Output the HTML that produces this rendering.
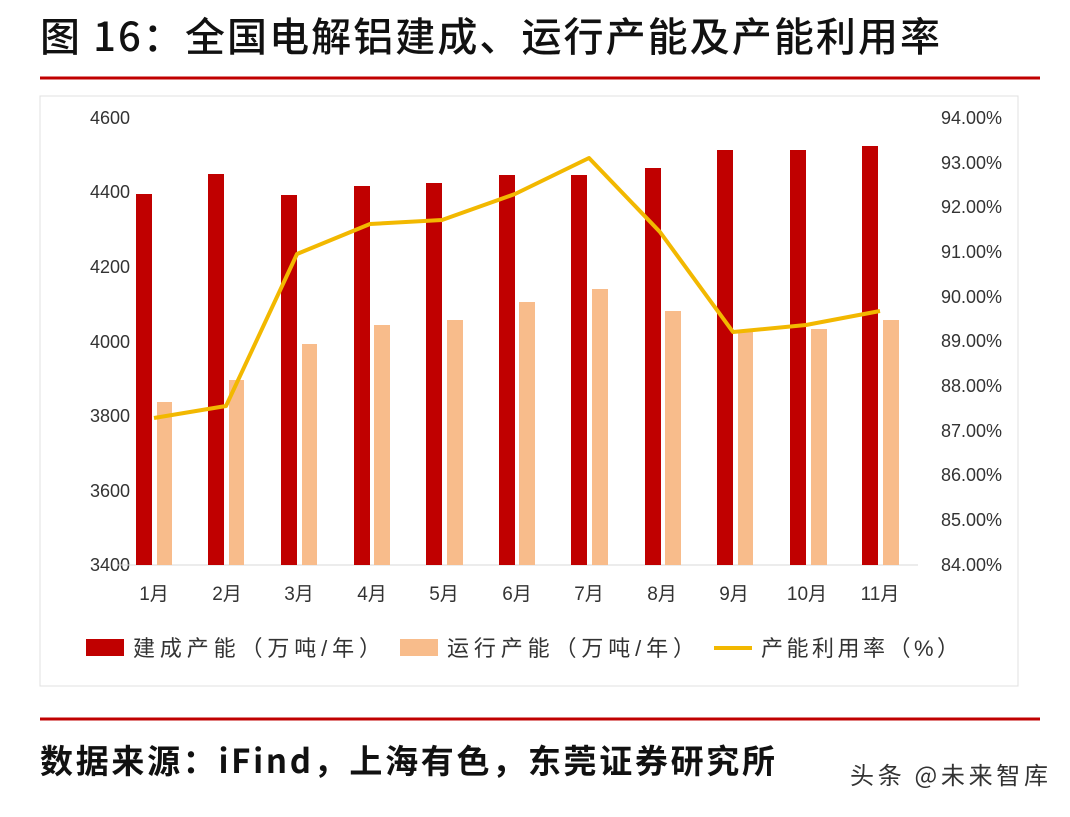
<!DOCTYPE html>
<html><head><meta charset="utf-8"><style>
body{margin:0;width:1070px;height:812px;background:#fff;overflow:hidden;font-family:"Liberation Sans","Noto Sans CJK SC",sans-serif;}
</style></head><body>
<svg width="1070" height="812" xmlns="http://www.w3.org/2000/svg" font-family="Liberation Sans, Noto Sans CJK SC, sans-serif">
<text x="40" y="51" font-size="40" font-weight="500" fill="#111" font-family="Noto Sans CJK SC, sans-serif" textLength="900" lengthAdjust="spacing">图 16：全国电解铝建成、运行产能及产能利用率</text>
<line x1="40" y1="78" x2="1040" y2="78" stroke="#c00000" stroke-width="3"/>
<rect x="40" y="96" width="978" height="590" fill="#fff" stroke="#e0e0e0"/>
<g font-size="18" fill="#333" text-anchor="end">
<text x="130" y="124">4600</text><text x="130" y="198">4400</text><text x="130" y="273">4200</text><text x="130" y="348">4000</text><text x="130" y="422">3800</text><text x="130" y="497">3600</text><text x="130" y="571">3400</text>
</g>
<g font-size="18" fill="#333" text-anchor="end">
<text x="1002" y="124">94.00%</text><text x="1002" y="169">93.00%</text><text x="1002" y="213">92.00%</text><text x="1002" y="258">91.00%</text><text x="1002" y="303">90.00%</text><text x="1002" y="347">89.00%</text><text x="1002" y="392">88.00%</text><text x="1002" y="437">87.00%</text><text x="1002" y="481">86.00%</text><text x="1002" y="526">85.00%</text><text x="1002" y="571">84.00%</text>
</g>
<line x1="117" y1="565" x2="918" y2="565" stroke="#d9d9d9"/>
<g fill="#c00000">
<rect x="136" y="194" width="16" height="371"/><rect x="208" y="174" width="16" height="391"/><rect x="281" y="195" width="16" height="370"/><rect x="354" y="186" width="16" height="379"/><rect x="426" y="183" width="16" height="382"/><rect x="499" y="175" width="16" height="390"/><rect x="571" y="175" width="16" height="390"/><rect x="645" y="168" width="16" height="397"/><rect x="717" y="150" width="16" height="415"/><rect x="790" y="150" width="16" height="415"/><rect x="862" y="146" width="16" height="419"/>
</g>
<g fill="#f8bc8b">
<rect x="157" y="402" width="15" height="163"/><rect x="229" y="380" width="15" height="185"/><rect x="302" y="344" width="15" height="221"/><rect x="374" y="325" width="16" height="240"/><rect x="447" y="320" width="16" height="245"/><rect x="519" y="302" width="16" height="263"/><rect x="592" y="289" width="16" height="276"/><rect x="665" y="311" width="16" height="254"/><rect x="738" y="330" width="15" height="235"/><rect x="811" y="329" width="16" height="236"/><rect x="883" y="320" width="16" height="245"/>
</g>
<polyline points="154,418 226,406 297,254 370,224 442,220 515,194 589,158 660,232 733,332 806,325 880,311" fill="none" stroke="#f2b800" stroke-width="4" stroke-linejoin="round"/>
<g font-size="19" fill="#333" text-anchor="middle">
<text x="154" y="600">1月</text><text x="227" y="600">2月</text><text x="299" y="600">3月</text><text x="372" y="600">4月</text><text x="444" y="600">5月</text><text x="517" y="600">6月</text><text x="589" y="600">7月</text><text x="662" y="600">8月</text><text x="734" y="600">9月</text><text x="807" y="600">10月</text><text x="880" y="600">11月</text>
</g>
<rect x="86" y="639" width="38" height="17" fill="#c00000"/>
<text x="133" y="656" font-size="22" fill="#333" textLength="248" lengthAdjust="spacing">建成产能（万吨/年）</text>
<rect x="400" y="639" width="38" height="17" fill="#f8bc8b"/>
<text x="447" y="656" font-size="22" fill="#333" textLength="248" lengthAdjust="spacing">运行产能（万吨/年）</text>
<line x1="714" y1="648" x2="752" y2="648" stroke="#f2b800" stroke-width="4"/>
<text x="761" y="656" font-size="22" fill="#333" textLength="198" lengthAdjust="spacing">产能利用率（%）</text>
<line x1="40" y1="719" x2="1040" y2="719" stroke="#c00000" stroke-width="3"/>
<text x="40" y="773" font-size="33" font-weight="bold" fill="#111" font-family="Noto Sans CJK SC, sans-serif" textLength="735" lengthAdjust="spacing">数据来源：iFind，上海有色，东莞证券研究所</text>
<text x="850" y="784" font-size="24" fill="#333" font-family="Noto Sans CJK SC, sans-serif" textLength="198" lengthAdjust="spacing">头条 @未来智库</text>
</svg>
</body></html>
